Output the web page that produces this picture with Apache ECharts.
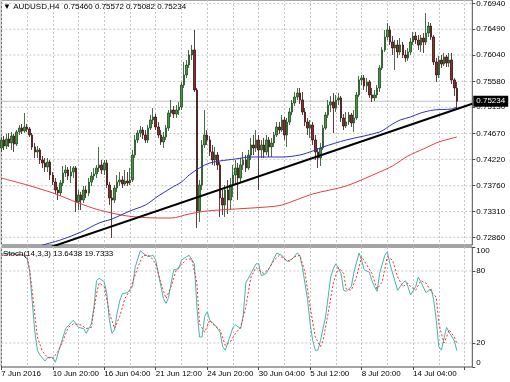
<!DOCTYPE html>
<html><head><meta charset="utf-8">
<script src="https://cdn.jsdelivr.net/npm/echarts@6/dist/echarts.min.js"></script>
<style>html,body{margin:0;padding:0;background:#fff}#c{width:510px;height:382px}</style>
</head><body><div id="c"></div>
<script>
const tickLabels = ['7 Jun 2016','10 Jun 20:00','16 Jun 04:00','21 Jun 12:00','24 Jun 20:00','30 Jun 04:00','5 Jul 12:00','8 Jul 20:00','14 Jul 04:00'];
const priceTicks = [0.72860,0.73310,0.73760,0.74220,0.74670,0.75130,0.75580,0.76040,0.76490,0.76940];
const stochLevels = [20,80];
const stochScale = [0,20,80,100];
const lastPrice = 0.75234;

const opens = [0.74418,0.74558,0.74453,0.74575,0.74506,0.74628,0.74488,0.74698,0.74767,0.74715,
0.74785,0.74750,0.74645,0.74436,0.74349,0.74384,0.74209,0.74157,0.74087,0.74174,
0.73947,0.73825,0.73686,0.73634,0.73808,0.73982,0.74035,0.73930,0.74000,0.74070,
0.73477,0.73599,0.73511,0.73686,0.73634,0.73825,0.73930,0.73965,0.74070,0.74122,
0.74035,0.74157,0.73773,0.73546,0.73511,0.73721,0.73825,0.73860,0.73790,0.73843,
0.73808,0.73860,0.74296,0.74558,0.74680,0.74732,0.74645,0.74558,0.74767,0.74907,
0.74959,0.74785,0.74645,0.74523,0.74610,0.74767,0.75029,0.75081,0.75011,0.75081,
0.75134,0.75517,0.75692,0.75866,0.76041,0.76128,0.75430,0.73320,0.73773,0.74471,
0.74645,0.74558,0.74349,0.74209,0.74296,0.74122,0.73546,0.73424,0.73686,0.73511,
0.73773,0.73947,0.74070,0.73895,0.74122,0.74209,0.74070,0.74296,0.74471,0.74418,
0.74558,0.74384,0.74471,0.74349,0.74558,0.74436,0.74506,0.74645,0.74785,0.74732,
0.74907,0.74645,0.74872,0.75046,0.75203,0.75308,0.75378,0.75256,0.75046,0.74872,
0.74767,0.74820,0.74558,0.74349,0.74244,0.74418,0.74767,0.74994,0.75168,0.75221,
0.75116,0.75256,0.75291,0.74942,0.74802,0.74872,0.74994,0.74855,0.74942,0.75343,
0.75605,0.75639,0.75500,0.75570,0.75343,0.75291,0.75343,0.75465,0.75814,0.76128,
0.76355,0.76477,0.76267,0.76163,0.76215,0.76093,0.76215,0.76041,0.75988,0.76093,
0.76267,0.76372,0.76302,0.76215,0.76337,0.76267,0.76424,0.76546,0.76355,0.75919,
0.75692,0.75953,0.75884,0.76006,0.75901,0.75953,0.75605,0.75460];

const closes = [0.74558,0.74453,0.74575,0.74506,0.74628,0.74488,0.74698,0.74767,0.74715,0.74785,
0.74750,0.74645,0.74436,0.74349,0.74384,0.74209,0.74157,0.74087,0.74174,0.73947,
0.73825,0.73686,0.73634,0.73808,0.73982,0.74035,0.73930,0.74000,0.74070,0.73477,
0.73599,0.73511,0.73686,0.73634,0.73825,0.73930,0.73965,0.74070,0.74122,0.74035,
0.74157,0.73773,0.73546,0.73511,0.73721,0.73825,0.73860,0.73790,0.73843,0.73808,
0.73860,0.74296,0.74558,0.74680,0.74732,0.74645,0.74558,0.74767,0.74907,0.74959,
0.74785,0.74645,0.74523,0.74610,0.74767,0.75029,0.75081,0.75011,0.75081,0.75134,
0.75517,0.75692,0.75866,0.76041,0.76128,0.75430,0.73320,0.73773,0.74471,0.74645,
0.74558,0.74349,0.74209,0.74296,0.74122,0.73546,0.73424,0.73686,0.73511,0.73773,
0.73947,0.74070,0.73895,0.74122,0.74209,0.74070,0.74296,0.74471,0.74418,0.74558,
0.74384,0.74471,0.74349,0.74558,0.74436,0.74506,0.74645,0.74785,0.74732,0.74907,
0.74645,0.74872,0.75046,0.75203,0.75308,0.75378,0.75256,0.75046,0.74872,0.74767,
0.74820,0.74558,0.74349,0.74244,0.74418,0.74767,0.74994,0.75168,0.75221,0.75116,
0.75256,0.75291,0.74942,0.74802,0.74872,0.74994,0.74855,0.74942,0.75343,0.75605,
0.75639,0.75500,0.75570,0.75343,0.75291,0.75343,0.75465,0.75814,0.76128,0.76355,
0.76477,0.76267,0.76163,0.76215,0.76093,0.76215,0.76041,0.75988,0.76093,0.76267,
0.76372,0.76302,0.76215,0.76337,0.76267,0.76424,0.76546,0.76355,0.75919,0.75692,
0.75953,0.75884,0.76006,0.75901,0.75953,0.75605,0.75465,0.75234];

const lows = [0.74349,0.74384,0.74401,0.74436,0.74384,0.74349,0.74453,0.74645,0.74663,0.74680,
0.74698,0.74610,0.74384,0.74244,0.74244,0.74139,0.74070,0.74000,0.74000,0.73860,
0.73773,0.73616,0.73511,0.73581,0.73756,0.73913,0.73860,0.73808,0.73895,0.73302,
0.73337,0.73337,0.73459,0.73546,0.73581,0.73756,0.73860,0.73895,0.74000,0.73965,
0.73947,0.73721,0.73424,0.72849,0.73459,0.73651,0.73756,0.73721,0.73756,0.73756,
0.73773,0.73825,0.74244,0.74506,0.74610,0.74575,0.74506,0.74506,0.74732,0.74837,
0.74732,0.74593,0.74471,0.74418,0.74558,0.74715,0.74959,0.74942,0.74942,0.74994,
0.75081,0.75465,0.75639,0.75814,0.75953,0.75395,0.73023,0.73128,0.73686,0.74418,
0.74471,0.74279,0.74122,0.74104,0.74035,0.73215,0.73250,0.73215,0.73267,0.73337,
0.73564,0.73773,0.73511,0.73825,0.74035,0.74000,0.74035,0.74209,0.74296,0.74349,
0.73686,0.74244,0.74244,0.74296,0.74261,0.74261,0.74436,0.74610,0.74663,0.74698,
0.74558,0.74436,0.74820,0.74994,0.75151,0.75256,0.75186,0.74994,0.74802,0.74645,
0.74593,0.74471,0.74209,0.74070,0.74104,0.74384,0.74732,0.74942,0.75046,0.74680,
0.75046,0.75168,0.74872,0.74732,0.74767,0.74820,0.74785,0.74698,0.74907,0.75308,
0.75517,0.75430,0.75395,0.75291,0.75221,0.75238,0.75291,0.75395,0.75779,0.76093,
0.76302,0.76215,0.76041,0.75779,0.75988,0.76041,0.75988,0.75919,0.75936,0.76041,
0.76215,0.76233,0.76128,0.76093,0.76076,0.76215,0.76355,0.76302,0.75866,0.75570,
0.75639,0.75814,0.75849,0.75831,0.75831,0.75535,0.75325,0.75082];

const highs = [0.74610,0.74628,0.74663,0.74680,0.74698,0.74663,0.74732,0.74820,0.74837,0.75029,
0.74837,0.74785,0.74680,0.74506,0.74453,0.74418,0.74279,0.74244,0.74244,0.74209,
0.74000,0.73895,0.73738,0.73860,0.74104,0.74122,0.74087,0.74104,0.74104,0.74104,
0.73686,0.73651,0.73756,0.73756,0.73895,0.74000,0.74070,0.74122,0.74436,0.74209,
0.74209,0.74209,0.73825,0.73686,0.73773,0.73947,0.74000,0.73930,0.74035,0.74000,
0.74070,0.74384,0.74645,0.74732,0.74802,0.74785,0.74732,0.74820,0.74994,0.75116,
0.75011,0.74872,0.74732,0.74698,0.74820,0.75081,0.75256,0.75151,0.75168,0.75221,
0.75570,0.75919,0.75953,0.76128,0.76215,0.76477,0.75465,0.73860,0.74558,0.75081,
0.74732,0.74628,0.74471,0.74436,0.74349,0.74174,0.73686,0.73773,0.73860,0.73895,
0.74122,0.74209,0.74157,0.74244,0.74349,0.74296,0.74384,0.74593,0.74645,0.74732,
0.74645,0.74558,0.74593,0.74645,0.74610,0.74593,0.74698,0.74872,0.74872,0.74994,
0.74959,0.74942,0.75116,0.75256,0.75395,0.75465,0.75465,0.75395,0.75116,0.74942,
0.74907,0.74872,0.74645,0.74418,0.74506,0.74820,0.75046,0.75256,0.75325,0.75378,
0.75343,0.75378,0.75325,0.75011,0.75046,0.75046,0.75029,0.75081,0.75395,0.75674,
0.75692,0.75692,0.75639,0.75605,0.75465,0.75430,0.75517,0.75866,0.76180,0.76477,
0.76599,0.76546,0.76372,0.76302,0.76302,0.76337,0.76267,0.76128,0.76163,0.76337,
0.76442,0.76442,0.76389,0.76389,0.76424,0.76773,0.76616,0.76599,0.76389,0.75988,
0.76023,0.76041,0.76076,0.76041,0.76076,0.76076,0.75639,0.75572];

// moving averages: [bar index, price]
const maBlue = [[16,0.72726],[23,0.72814],[31,0.72953],[38,0.73110],[43,0.73180],[50,0.73320],[56,0.73424],[61,0.73581],[66,0.73721],[70,0.73825],[73,0.73947],[77,0.74070],[81,0.74157],[85,0.74192],[91,0.74227],[97,0.74261],[109,0.74261],[116,0.74296],[121,0.74366],[125,0.74436],[134,0.74558],[147,0.74698],[152,0.74837],[155,0.74907],[159,0.74959],[163,0.75029],[168,0.75081],[175,0.75099],[177,0.75134]];
const maRed = [[0,0.73895],[10,0.73773],[20,0.73634],[30,0.73459],[38,0.73337],[49,0.73232],[61,0.73197],[66,0.73197],[73,0.73267],[80,0.73320],[91,0.73354],[103,0.73389],[109,0.73424],[121,0.73616],[134,0.73756],[147,0.74000],[152,0.74104],[158,0.74279],[164,0.74401],[170,0.74523],[177,0.74610]];
const trendLine = [[0,0.72396],[183,0.75191]];

const stochK = [[0,94],[3,95],[6,94],[9,93],[10,90],[11,80],[12,55],[13,30],[14,14],[15,10],[17,5],[18,8],[20,8],[21,4],[25,32],[28,39],[30,33],[32,32],[33,28],[35,36],[36,50],[37,72],[38,74],[40,71],[41,61],[42,39],[43,28],[44,31],[45,45],[46,55],[47,61],[49,62],[51,67],[52,83],[54,97],[55,95],[57,92],[59,93],[60,89],[61,78],[63,57],[64,53],[65,58],[66,70],[67,81],[69,82],[70,89],[72,92],[73,93],[75,86],[76,50],[77,25],[78,25],[79,42],[80,46],[81,39],[83,35],[85,29],[86,17],[87,14],[88,20],[90,33],[91,35],[93,32],[94,43],[95,70],[97,78],[99,86],[100,86],[101,76],[103,78],[105,86],[107,95],[109,93],[111,88],[113,90],[115,95],[116,93],[117,83],[119,56],[120,36],[121,22],[122,14],[123,14],[124,22],[126,42],[128,75],[129,82],[130,86],[132,78],[133,64],[134,63],[136,67],[137,79],[139,95],[140,89],[141,81],[143,79],[144,72],[145,67],[146,63],[147,78],[149,93],[150,96],[151,86],[153,71],[154,64],[156,70],[157,72],[158,67],[159,60],[161,67],[162,75],[163,71],[165,62],[167,65],[168,56],[169,39],[170,17],[171,14],[172,24],[173,33],[174,29],[176,22],[177,13.6438]];
const stochD = [[0,93],[5,94],[10,93],[11,81],[12,64],[14,25],[16,13],[18,8],[20,7],[22,13],[24,22],[26,33],[28,36],[31,35],[33,32],[35,33],[37,61],[38,70],[40,67],[42,45],[44,32],[46,42],[48,57],[50,64],[53,83],[55,93],[57,93],[58,92],[60,86],[62,70],[64,57],[66,67],[68,81],[70,85],[72,90],[74,90],[76,70],[77,36],[79,29],[81,39],[82,36],[85,31],[87,18],[89,21],[91,28],[93,33],[95,50],[97,75],[99,83],[101,79],[102,78],[104,82],[106,89],[108,93],[110,90],[112,88],[114,92],[116,93],[118,79],[120,50],[122,25],[124,17],[125,22],[127,45],[129,70],[131,83],[133,78],[134,65],[136,64],[138,75],[140,92],[142,85],[144,78],[146,65],[148,71],[150,92],[152,89],[154,75],[156,67],[158,70],[159,67],[161,64],[163,72],[165,70],[167,63],[169,58],[170,36],[172,20],[173,25],[174,31],[176,25],[177,19.7333]];

// H4 bar times (weekends skipped) plus empty slots for the chart shift
const SLOTS = 184;
const LAST = SLOTS - 1;
const months = ['Jan','Feb','Mar','Apr','May','Jun','Jul','Aug','Sep','Oct','Nov','Dec'];
const categories = [];
let t = Date.UTC(2016,5,7,12);
for (let i = 0; i < SLOTS; i++) {
  const d = new Date(t);
  categories.push(d.getUTCDate()+' '+months[d.getUTCMonth()]+' '+String(d.getUTCHours()).padStart(2,'0')+':00');
  t += 4*3600e3;
  if (new Date(t).getUTCDay() === 6) t += 2*24*3600e3;
}

const candles = opens.map((o,i)=>[o, closes[i], lows[i], highs[i]]);

const FONT = 'Liberation Sans';
const GRIDC = '#c6c6c6';
const dash = {show:true, lineStyle:{color:GRIDC, type:[2,2], width:1}};
const every10 = (i)=> i % 10 === 0;
const every20 = (i)=> i % 20 === 0;
const txt = {fontSize:8, fontFamily:FONT, color:'#000'};
const tick = {show:true, length:3, lineStyle:{color:'#4a4a4a'}};

// full-width horizontal level drawn through the axes
function level(xi, yi, v, style) {
  return {type:'line', xAxisIndex:xi, yAxisIndex:yi, data:[[0,v],[LAST,v]], showSymbol:false, silent:true, z:1,
          lineStyle:style};
}
const dashStyle = {color:GRIDC, type:[2,2], width:1};

const series = []
  .concat(priceTicks.map(v => level(0, 0, v, dashStyle)))
  .concat(stochLevels.map(v => level(1, 2, v, dashStyle)))
  .concat([level(0, 0, lastPrice, {color:'#bdbdbd', type:'solid', width:1})])
  .concat([
    {type:'candlestick', xAxisIndex:0, yAxisIndex:0, data:candles, barWidth:2, clip:false, z:2,
     itemStyle:{color:'#3f9a3f', color0:'#8a2e2e', borderColor:'#1c4a1c', borderColor0:'#3a0c0c', borderWidth:0.8}},
    {type:'line', xAxisIndex:0, yAxisIndex:0, data:maRed, showSymbol:false, smooth:0.3, z:3,
     lineStyle:{color:'#e04040', width:1}},
    {type:'line', xAxisIndex:0, yAxisIndex:0, data:maBlue, showSymbol:false, smooth:0.3, z:3,
     lineStyle:{color:'#3030c0', width:1}},
    {type:'line', xAxisIndex:0, yAxisIndex:0, data:trendLine, showSymbol:false, z:4, clip:true,
     lineStyle:{color:'#000', width:2}},
    {type:'line', xAxisIndex:1, yAxisIndex:2, data:stochK, showSymbol:false, z:3,
     lineStyle:{color:'#45b5ad', width:1}},
    {type:'line', xAxisIndex:1, yAxisIndex:2, data:stochD, showSymbol:false, z:3,
     lineStyle:{color:'#ff2a2a', width:1, type:[2,2]}}
  ]);

const chart = echarts.init(document.getElementById('c'));
chart.setOption({
  animation:false,
  backgroundColor:'#ffffff',
  textStyle:{fontFamily:FONT},
  title:[
    {text:'\u25BC AUDUSD,H4  0.75460 0.75572 0.75082 0.75234', left:3, top:3, padding:0,
     textStyle:Object.assign({fontWeight:'normal'}, txt)},
    {text:'Stoch(14,3,3) 13.6438 19.7333', left:3, top:250, padding:0,
     textStyle:Object.assign({fontWeight:'normal'}, txt)}
  ],
  grid:[
    {left:1.3, right:37.7, top:0, height:245, show:true, borderColor:'#4a4a4a', borderWidth:1, outerBoundsMode:'none'},
    {left:1.3, right:37.7, top:247, height:120, show:true, borderColor:'#4a4a4a', borderWidth:1, outerBoundsMode:'none'}
  ],
  xAxis:[
    {type:'category', gridIndex:0, data:categories, boundaryGap:false,
     axisLine:{show:false}, axisTick:{show:false}, axisLabel:{show:false},
     splitLine:Object.assign({}, dash, {interval:every10})},
    {type:'category', gridIndex:1, data:categories, boundaryGap:false,
     axisLine:{show:false},
     axisTick:Object.assign({interval:every20}, tick),
     axisLabel:Object.assign({show:true, interval:every20, hideOverlap:false, align:'left', margin:3,
       formatter:(v,i)=> (i % 20 === 0 && tickLabels[i/20]) ? tickLabels[i/20] : ''}, txt),
     splitLine:Object.assign({}, dash, {interval:every10})}
  ],
  yAxis:[
    {type:'value', gridIndex:0, position:'right', min:0.72726, max:0.77000,
     axisLine:{show:false}, splitLine:{show:false},
     axisTick:Object.assign({customValues:priceTicks}, tick),
     axisLabel:Object.assign({customValues:priceTicks, hideOverlap:false, formatter:(v)=>v.toFixed(5), margin:4}, txt)},
    {type:'value', gridIndex:0, position:'right', min:0.72726, max:0.77000, z:5,
     axisLine:{show:false}, axisTick:{show:false}, splitLine:{show:false},
     axisLabel:{customValues:[lastPrice], hideOverlap:false, margin:1, formatter:(v)=>v.toFixed(5),
       backgroundColor:'#000', color:'#fff', fontSize:8, fontFamily:FONT, padding:[2,3,1,3]}},
    {type:'value', gridIndex:1, position:'right', min:0, max:100,
     axisLine:{show:false}, splitLine:{show:false},
     axisTick:Object.assign({customValues:stochScale}, tick),
     axisLabel:{show:false}}
  ],
  series:series
});

// stochastic scale labels, placed through the indicator axes' own pixel mapping
const edgeX = chart.convertToPixel({xAxisIndex:1}, LAST);
chart.setOption({
  graphic: stochScale.map(v => ({
    type:'text', z:100, silent:true,
    x: edgeX + 4,
    y: chart.convertToPixel({yAxisIndex:2}, v),
    style:{text:String(v), fill:'#000', fontSize:8, fontFamily:FONT, align:'left',
           verticalAlign: v === 100 ? 'top' : (v === 0 ? 'bottom' : 'middle')}
  }))
});
</script></body></html>
